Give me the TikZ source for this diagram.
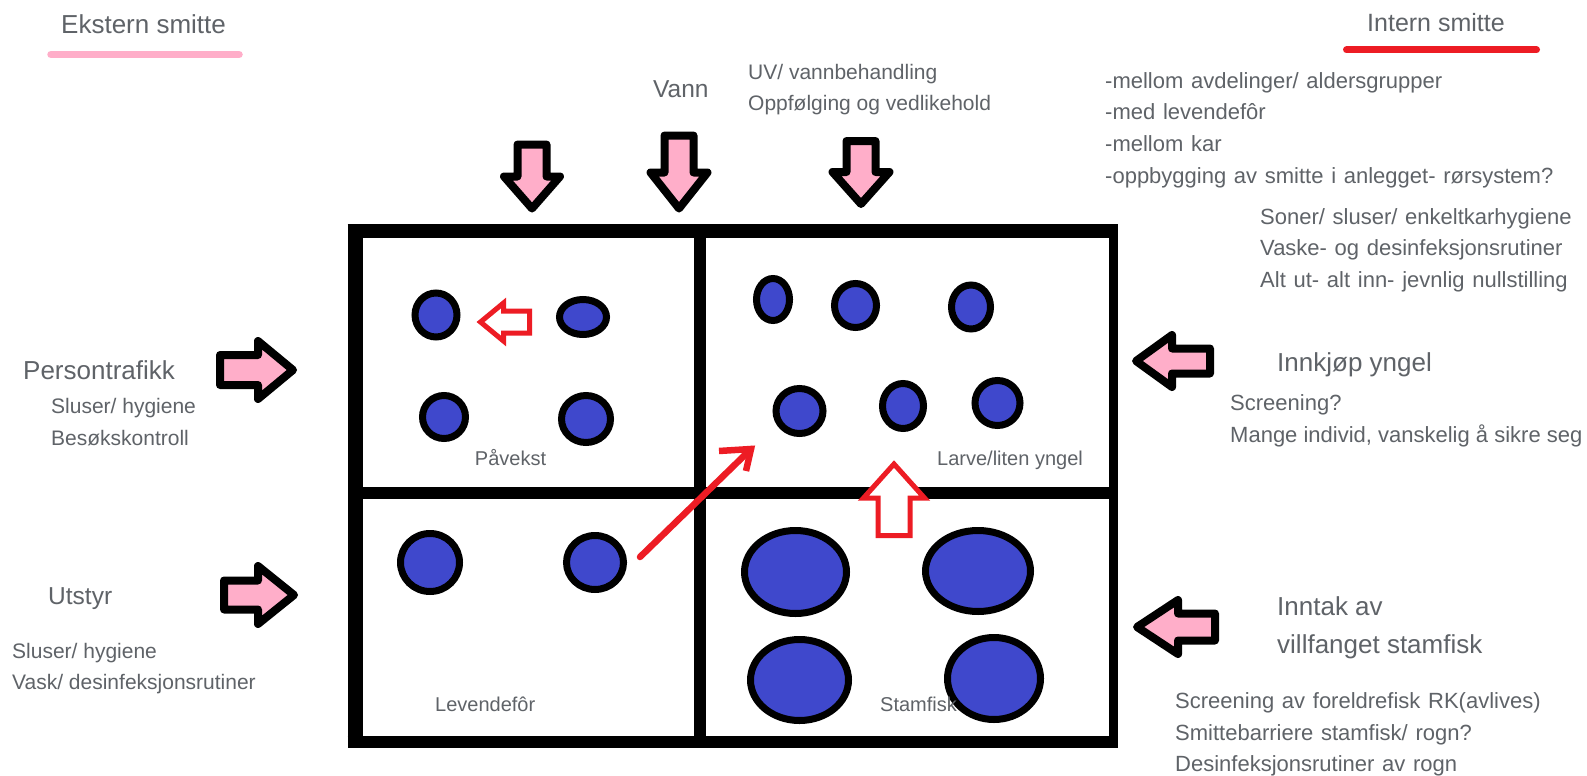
\documentclass[tikz,border=0pt]{standalone}
\usepackage{fontspec}
\setmainfont{Liberation Sans}
\usetikzlibrary{shapes.geometric}
\definecolor{pinkc}{RGB}{255,174,201}
\definecolor{bluec}{RGB}{63,72,204}
\definecolor{redc}{RGB}{237,28,36}
\definecolor{textc}{RGB}{95,99,104}
\newcommand\mywidespace{\spaceskip=0.35em\relax}
\tikzset{
  txt/.style={inner sep=0pt, text=textc, anchor=west, text height=0.75em, text depth=0.2em},
  head/.style={txt, font=\fontsize{26}{26}\selectfont},
  sub/.style={txt, font=\fontsize{22}{22}\selectfont\mywidespace},
  nsub/.style={txt, font=\fontsize{22}{22}\selectfont},
  lsub/.style={txt, font=\fontsize{21}{21}\selectfont},
  lab/.style={txt, font=\fontsize{20}{20}\selectfont},
  fish/.style={ellipse, draw=black, fill=bluec, line width=7pt, inner sep=0pt},
  pinkar/.style={draw=black, fill=pinkc, line width=8pt, line join=round},
  redar/.style={draw=redc, fill=white, line width=5pt, line join=miter},
  redline/.style={draw=redc, line width=6.5pt},
  pics/pinkarr/.style n args={4}{code={%
    \draw[pinkar] (-#1,-#4) -- (-#2,-#4) -- (-#2,-#3) -- (0,0) -- (-#2,#3) -- (-#2,#4) -- (-#1,#4) -- cycle;}},
  pics/redarr/.style n args={4}{code={%
    \draw[redar] (-#1,-#4) -- (-#2,-#4) -- (-#2,-#3) -- (0,0) -- (-#2,#3) -- (-#2,#4) -- (-#1,#4) -- cycle;}},
}
\begin{document}
\begin{tikzpicture}[x=1pt,y=-1pt]
\useasboundingbox[fill=white] (0,0) rectangle (1587,776);

% underlines
\draw[pinkc, line width=7.5pt, line cap=round] (51,54.5) -- (239,54.5);
\draw[redc, line width=7pt, line cap=round] (1346.5,50) -- (1536.5,50);

% frame
\draw[line width=14pt] (347.5,231) -- (1117.5,231);
\draw[line width=12pt] (347.5,742) -- (1117.5,742);
\draw[line width=15pt] (355,224) -- (355,748);
\draw[line width=9pt] (1113,224) -- (1113,748);
\draw[line width=12pt] (355,492.5) -- (1113,492.5);
\draw[line width=12pt] (700,231) -- (700,742);

% fish - Påvekst
\node[fish, minimum width=42pt, minimum height=44pt] (p1) at (436,315) {};
\node[fish, minimum width=47pt, minimum height=35pt] (p2) at (583,317) {};
\node[fish, minimum width=43pt, minimum height=43pt] (p3) at (444,417) {};
\node[fish, minimum width=49pt, minimum height=47pt] (p4) at (586,419) {};
% fish - Larve
\node[fish, minimum width=33pt, minimum height=42pt] (l1) at (773,299.5) {};
\node[fish, minimum width=42pt, minimum height=44pt] (l2) at (855.5,305.5) {};
\node[fish, minimum width=39pt, minimum height=44pt] (l3) at (971,307) {};
\node[fish, minimum width=47pt, minimum height=45pt] (l4) at (799.5,411) {};
\node[fish, minimum width=41pt, minimum height=45pt] (l5) at (903,406) {};
\node[fish, minimum width=45pt, minimum height=45pt] (l6) at (997.5,403) {};
% fish - Levendefor
\node[fish, minimum width=59pt, minimum height=58pt] (v1) at (430,562.5) {};
\node[fish, minimum width=57pt, minimum height=54pt] (v2) at (595,562.5) {};
% fish - Stamfisk
\node[fish, minimum width=102pt, minimum height=83pt] (s1) at (795.5,572) {};
\node[fish, minimum width=105pt, minimum height=81pt] (s2) at (978,571) {};
\node[fish, minimum width=98pt, minimum height=81pt] (s3) at (799.5,680) {};
\node[fish, minimum width=93pt, minimum height=82pt] (s4) at (994,678.5) {};

% pink arrows
\pic[rotate=-90] at (532,208.5) {pinkarr={64}{32}{28}{14.5}};
\pic[rotate=-90] at (679,208.5) {pinkarr={73}{36}{28.5}{14.5}};
\pic[rotate=-90] at (861,204) {pinkarr={63}{32}{28.5}{14.5}};
\pic at (293,370) {pinkarr={73}{35}{29}{15}};
\pic at (294,595) {pinkarr={70}{36}{29}{14.5}};
\pic[rotate=180] at (1136,361) {pinkarr={74}{36}{26}{12.5}};
\pic[rotate=180] at (1137,627) {pinkarr={78}{41}{27}{13.5}};

% red arrows
\pic[rotate=180] at (480.5,322) {redarr={49}{23}{19}{11}};
\pic[rotate=90] at (894,464) {redarr={71.5}{34}{30.5}{16}};
\coordinate (rs) at (640,557);
\coordinate (re) at (751,449);
\coordinate (ra) at (719,451);
\coordinate (rb) at (746,471);
\draw[redline, line cap=round] (rs) -- (re);
\draw[redline, line cap=butt, line join=miter] (ra) -- (re) -- (rb);

% texts
\node[head] (t1) at (61,31) {Ekstern smitte};
\node[head, font=\fontsize{25}{25}\selectfont] (t2) at (1367,29) {Intern smitte};
\node[head, font=\fontsize{24.5}{24.5}\selectfont] (t3) at (653,95) {Vann};
\node[lsub] (t4) at (748,77) {UV/ vannbehandling};
\node[lsub] (t5) at (748,108) {Oppfølging og vedlikehold};
\node[sub] (t6) at (1105,86) {-mellom avdelinger/ aldersgrupper};
\node[sub] (t7) at (1105,117) {-med levendefôr};
\node[sub] (t8) at (1105,149) {-mellom kar};
\node[sub] (t9) at (1105,181) {-oppbygging av smitte i anlegget- rørsystem?};
\node[sub] (t10) at (1260,222) {Soner/ sluser/ enkeltkarhygiene};
\node[sub] (t11) at (1260,253) {Vaske- og desinfeksjonsrutiner};
\node[sub] (t12) at (1260,285) {Alt ut- alt inn- jevnlig nullstilling};
\node[head] (t13) at (23,377) {Persontrafikk};
\node[lsub] (t14) at (51,411) {Sluser/ hygiene};
\node[lsub] (t15) at (51,443) {Besøkskontroll};
\node[head, font=\fontsize{24.5}{24.5}\selectfont] (t16) at (48,602) {Utstyr};
\node[lsub] (t17) at (12,656) {Sluser/ hygiene};
\node[lsub] (t18) at (12,687) {Vask/ desinfeksjonsrutiner};
\node[head] (t19) at (1277,369) {Innkjøp yngel};
\node[nsub] (t20) at (1230,408) {Screening?};
\node[nsub] (t21) at (1230,440) {Mange individ, vanskelig å sikre seg};
\node[head] (t22) at (1277,613) {Inntak av};
\node[head] (t23) at (1277,651) {villfanget stamfisk};
\node[sub] (t24) at (1175,706) {Screening av foreldrefisk RK(avlives)};
\node[sub] (t25) at (1175,738) {Smittebarriere stamfisk/ rogn?};
\node[sub] (t26) at (1175,769) {Desinfeksjonsrutiner av rogn};
\node[lab, anchor=center] (c1) at (510.5,463) {Påvekst};
\node[lab] (c2) at (937,463) {Larve/liten yngel};
\node[lab] (c3) at (435,709) {Levendefôr};
\node[lab] (c4) at (880,709) {Stamfisk};
\end{tikzpicture}
\end{document}
